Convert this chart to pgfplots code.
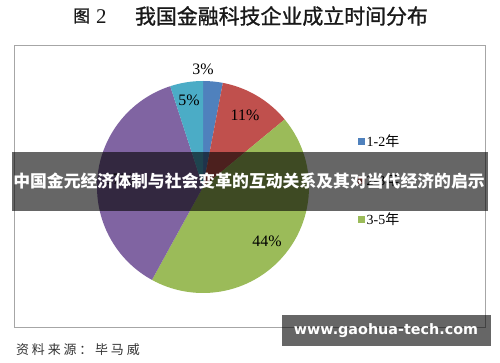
\documentclass[border=0pt]{standalone}
\usepackage{pgfplots}
\pgfplotsset{compat=1.18}
\usepackage{pgfplotstable}
\usepackage{fontspec}
\setmainfont{Liberation Serif}
\newfontfamily\cjk{Noto Sans CJK SC}
\newfontfamily\cjkmed[FakeBold=1.2]{Noto Sans CJK SC}
\newfontfamily\dv{DejaVu Sans}
\definecolor{c1}{HTML}{4F81BD}
\definecolor{c2}{HTML}{C0504D}
\definecolor{c3}{HTML}{9BBB59}
\definecolor{c4}{HTML}{8064A2}
\definecolor{c5}{HTML}{4BACC6}
\definecolor{framegray}{HTML}{A6A6A6}
\pgfplotstableread{
v c
3 c1
11 c2
44 c3
37 c4
5 c5
}\pietable
\begin{document}
\begin{tikzpicture}[x=1bp,y=1bp]
\path[use as bounding box, fill=white] (0,0) rectangle (500,362);
% chart frame
\draw[framegray, line width=1bp] (14,317) rectangle (485,35);
% title
\node[anchor=west, inner sep=0pt, text=black!90] at (73,346) {\fontsize{17}{17}\selectfont{\cjkmed 图}};
\node[anchor=west, inner sep=0pt, text=black!90] at (96,345.5) {\fontsize{21}{21}\selectfont 2};
\node[inner sep=0pt, text=black!90] at (281.5,346) {\fontsize{21}{21}\selectfont\cjkmed 我国金融科技企业成立时间分布};
% pie
\begin{axis}[at={(203bp,175bp)}, anchor=center, x=106bp, y=106bp,
  xmin=-1, xmax=1, ymin=-1, ymax=1, hide axis, clip=false]
\gdef\cum{0}
\pgfplotsinvokeforeach{0,...,4}{%
  \pgfplotstablegetelem{#1}{v}\of{\pietable}\let\val\pgfplotsretval
  \pgfplotstablegetelem{#1}{c}\of{\pietable}\let\col\pgfplotsretval
  \pgfmathsetmacro\aa{90-3.6*\cum}%
  \pgfmathsetmacro\bb{90-3.6*(\cum+\val)}%
  \edef\tmp{\noexpand\fill[\col] (axis cs:0,0) -- ++(\aa:106bp) arc[start angle=\aa, end angle=\bb, radius=106bp] -- cycle;}%
  \tmp
  \pgfmathsetmacro\newcum{\cum+\val}%
  \xdef\cum{\newcum}%
}
\node[font=\fontsize{16}{16}\selectfont] at (axis cs:0,1.113) {3\%};
\node[font=\fontsize{16}{16}\selectfont] at (axis cs:0.396,0.679) {11\%};
\node[font=\fontsize{16}{16}\selectfont] at (axis cs:0.604,-0.509) {44\%};
\node[font=\fontsize{16}{16}\selectfont] at (axis cs:-0.79,0.07) {37\%};
\node[font=\fontsize{16}{16}\selectfont] at (axis cs:-0.132,0.821) {5\%};
\end{axis}
% legend
\fill[c1] (357.5,217.5) rectangle (364.5,224.5);
\node[anchor=west, inner sep=0pt] at (366.5,221) {\fontsize{14}{14}\selectfont 1-2{\cjk 年}};
\fill[c2] (357.5,178.5) rectangle (364.5,185.5);
\node[anchor=west, inner sep=0pt] at (366.5,182) {\fontsize{14}{14}\selectfont 2-3{\cjk 年}};
\fill[c3] (357.5,139.5) rectangle (364.5,146.5);
\node[anchor=west, inner sep=0pt] at (366.5,143) {\fontsize{14}{14}\selectfont 3-5{\cjk 年}};
% banner
\fill[black, opacity=0.6] (12,151) rectangle (488,210);
\node[inner sep=0pt, text=white] at (249,180.5) {\fontsize{16.9}{17}\selectfont\cjk\bfseries 中国金元经济体制与社会变革的互动关系及其对当代经济的启示};
% watermark
\fill[black, opacity=0.6] (282,16) rectangle (491,47);
\node[inner sep=0pt, text=white] at (386,31.5) {\fontsize{14.4}{15}\selectfont\dv\bfseries www.gaohua-tech.com};
% source
\node[anchor=west, inner sep=0pt, text=black!80] at (16,12.5) {\fontsize{13}{13}\selectfont\cjk\addfontfeature{LetterSpace=22}资料来源：毕马威};
\end{tikzpicture}
\end{document}
